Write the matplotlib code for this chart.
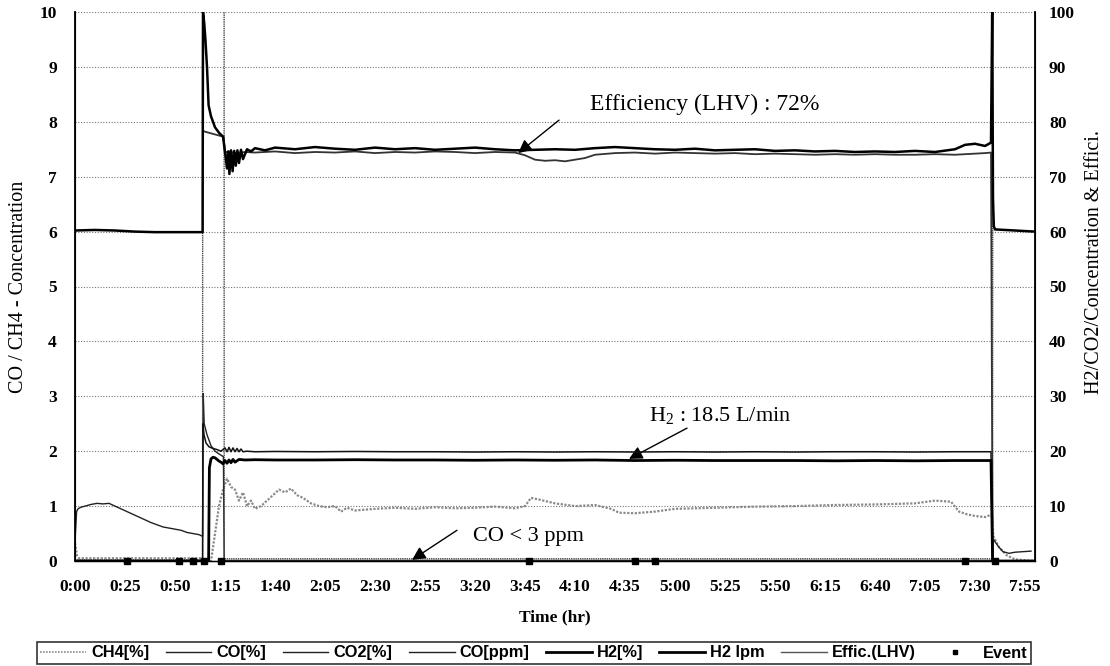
import matplotlib
matplotlib.use('Agg')
import matplotlib.pyplot as plt
from matplotlib.lines import Line2D

plt.rcParams['mathtext.fontset'] = 'custom'
plt.rcParams['mathtext.rm'] = 'Liberation Serif'
plt.rcParams['mathtext.it'] = 'Liberation Serif:italic'
plt.rcParams['mathtext.bf'] = 'Liberation Serif:bold'

# ---------------- data (time in minutes) ----------------
xtick_minutes = [0, 25, 50, 75, 100, 125, 150, 175, 200, 225, 250, 275, 300, 325, 350, 375, 400, 425, 450, 475]
xtick_labels = ["0:00", "0:25", "0:50", "1:15", "1:40", "2:05", "2:30", "2:55", "3:20", "3:45",
                "4:10", "4:35", "5:00", "5:25", "5:50", "6:15", "6:40", "7:05", "7:30", "7:55"]

# H2 [%]  (right axis)
h2_t = [0, 10, 20, 30, 40, 50, 60, 63.8, 64, 64.6, 65.2, 66, 66.8, 68, 70, 72, 74, 75, 76, 76.6, 77.2,
        78, 78.8, 79.6, 80.4, 81.2, 82, 83, 84, 86, 88, 90, 95, 100, 110, 120, 130, 140, 150, 160, 170,
        180, 190, 200, 210, 220, 230, 240, 250, 260, 270, 280, 290, 300, 310, 320, 330, 340, 350, 360,
        370, 380, 390, 400, 410, 420, 430, 440, 445, 450, 455, 458, 458.6, 459, 459.4, 460, 470, 480]
h2_v = [60.2, 60.3, 60.2, 60.0, 59.9, 59.9, 59.9, 59.9, 100, 98, 95, 90, 83, 81, 79, 78, 77.3, 74.5,
        71.5, 74.6, 70.5, 74.8, 71.0, 74.7, 72.0, 74.8, 72.5, 74.9, 73.2, 75.0, 74.6, 75.2, 74.8, 75.3,
        75.0, 75.4, 75.1, 74.9, 75.3, 75.0, 75.2, 74.9, 75.1, 75.3, 75.0, 74.8, 74.9, 75.0, 74.9, 75.2,
        75.4, 75.2, 75.0, 74.9, 75.1, 74.8, 74.9, 75.0, 74.7, 74.8, 74.6, 74.7, 74.5, 74.6, 74.5, 74.7,
        74.5, 75.0, 75.8, 76.0, 75.6, 76.2, 100, 66, 61, 60.4, 60.2, 60.0]

# Efficiency (LHV) [%]  (right axis)
eff_t = [64.3, 65, 67, 69, 71, 73, 74.3, 75, 77, 80, 85, 90, 100, 110, 120, 130, 140, 150, 160, 170, 180,
         190, 200, 210, 220, 225, 230, 235, 240, 245, 250, 255, 260, 270, 280, 290, 300, 310, 320, 330,
         340, 350, 360, 370, 380, 390, 400, 410, 420, 430, 440, 450, 455, 458, 458.8]
eff_v = [78.3, 78.2, 78.0, 77.8, 77.6, 77.4, 77.3, 74.4, 74.6, 74.3, 74.5, 74.4, 74.6, 74.3, 74.5, 74.4,
         74.6, 74.3, 74.5, 74.4, 74.6, 74.5, 74.3, 74.5, 74.4, 73.9, 73.1, 72.9, 73.0, 72.8, 73.1, 73.4,
         74.0, 74.3, 74.4, 74.2, 74.4, 74.3, 74.2, 74.3, 74.1, 74.2, 74.1, 74.0, 74.1, 74.0, 74.1, 74.0,
         74.0, 74.1, 74.0, 74.2, 74.3, 74.4, 0]

# CO2 [%]  (right axis)
co2_t = [0, 63.8, 64, 64.5, 65.5, 67, 69, 71, 73, 75, 76, 77, 78, 79, 80, 81, 82, 83, 84, 86, 90,
         100, 120, 140, 160, 180, 200, 220, 240, 260, 280, 300, 320, 340, 360, 380, 400, 420, 440,
         458, 458.8]
co2_v = [0, 0, 25, 23, 21.5, 20.8, 20.5, 20.3, 20.0, 20.6, 19.9, 20.7, 19.9, 20.6, 19.9, 20.5, 19.9,
         20.4, 19.9, 20.0, 19.9, 19.95, 19.9, 19.95, 19.9, 19.9, 19.85, 19.9, 19.85, 19.9, 19.85,
         19.9, 19.85, 19.9, 19.85, 19.9, 19.9, 19.85, 19.9, 19.9, 0]

# H2 flow [L/min]  (right axis)
h2lpm_t = [0, 66.8, 67.2, 68, 69, 70, 71, 72, 73, 74, 75, 76, 77, 78, 79, 80, 82, 85, 90, 100, 120,
           140, 160, 180, 200, 220, 240, 260, 280, 300, 320, 340, 360, 380, 400, 420, 440, 458,
           458.8, 480]
h2lpm_v = [0, 0, 17.0, 18.6, 18.9, 18.8, 18.5, 18.2, 18.0, 17.7, 18.3, 17.8, 18.4, 17.9, 18.5, 18.0,
           18.5, 18.4, 18.45, 18.4, 18.4, 18.45, 18.4, 18.4, 18.35, 18.4, 18.35, 18.4, 18.3, 18.35,
           18.3, 18.3, 18.3, 18.25, 18.3, 18.25, 18.3, 18.3, 0, 0]

# CO [%]  (left axis)
co_t = [0, 0.8, 1.5, 3, 5, 8, 11, 14, 17, 20, 23, 26, 29, 32, 35, 38, 41, 44, 47, 50, 53, 56, 59, 62,
        63.8, 64.1, 64.6, 65.3, 66, 67, 68, 70, 72, 74.2, 74.6, 150, 300, 458.8, 459.2, 460, 462, 464,
        467, 470, 474, 478]
co_v = [0.35, 0.9, 0.95, 0.98, 1.0, 1.03, 1.05, 1.04, 1.05, 1.0, 0.95, 0.9, 0.85, 0.8, 0.75, 0.7,
        0.66, 0.62, 0.6, 0.58, 0.56, 0.52, 0.5, 0.48, 0.45, 3.05, 2.5, 2.4, 2.3, 2.2, 2.1, 2.0, 1.95,
        1.9, 0.01, 0.01, 0.01, 0.01, 0.4, 0.35, 0.25, 0.17, 0.14, 0.16, 0.17, 0.18]

# CO [ppm]  (left axis, off-scale during transients)
coppm_t = [0, 63.8, 64, 74.4, 74.6, 200, 400, 458.8, 459.2, 480]
coppm_v = [0.02, 0.02, 50, 50, 0.04, 0.04, 0.04, 0.04, 50, 50]

# CH4 [%]  (left axis)
ch4_t = [0, 1, 2, 20, 40, 63, 66, 68, 70, 72, 74, 76, 78, 80, 82, 84, 86, 88, 90, 93, 96, 99, 102, 105,
         108, 111, 114, 118, 122, 126, 130, 133, 136, 140, 150, 160, 170, 180, 190, 200, 210, 220, 225,
         228, 232, 240, 250, 260, 268, 272, 280, 290, 300, 320, 340, 360, 380, 400, 420, 430, 438, 442,
         446, 450, 455, 458.5, 459.2, 462, 466, 470, 480]
ch4_v = [0.33, 0.1, 0.05, 0.05, 0.05, 0.05, 0.02, 0.0, 0.5, 1.0, 1.3, 1.5, 1.35, 1.3, 1.1, 1.25, 1.0,
         1.1, 0.95, 1.0, 1.1, 1.2, 1.3, 1.25, 1.32, 1.2, 1.15, 1.05, 1.0, 0.98, 1.0, 0.9, 0.97, 0.92,
         0.95, 0.97, 0.95, 0.98, 0.96, 0.97, 0.99, 0.96, 1.0, 1.15, 1.12, 1.05, 1.0, 1.02, 0.95, 0.88,
         0.87, 0.9, 0.95, 0.97, 0.99, 1.0, 1.02, 1.03, 1.05, 1.1, 1.08, 0.9, 0.85, 0.82, 0.8, 0.85,
         0.45, 0.25, 0.1, 0.03, 0.0]

# Events
event_t = [26, 52, 59, 64.5, 73, 227, 280, 290, 445, 460]
event_v = [0, 0, 0, 0, 0, 0, 0, 0, 0, 0]

# ---------------- figure ----------------
W, H = 1110, 666
fig = plt.figure(figsize=(W / 100, H / 100), dpi=100)
L, R, T, B = 75, 1035, 12, 561
ax = fig.add_axes([L / W, 1 - B / H, (R - L) / W, (B - T) / H])
ax2 = ax.twinx()

serif = 'Liberation Serif'
sans = 'Liberation Sans'

ax.set_xlim(0, 480)
ax.set_ylim(0, 10)
ax2.set_ylim(0, 100)

ax.set_yticks(range(0, 11))
ax2.set_yticks(range(0, 101, 10))
ax.set_xticks(xtick_minutes)
ax.set_xticklabels(xtick_labels)

for a in (ax, ax2):
    a.tick_params(length=0)
ax.tick_params(axis='x', pad=13)
ax.tick_params(axis='y', pad=13)
ax2.tick_params(axis='y', pad=10)
for lab in ax.get_xticklabels() + ax.get_yticklabels() + ax2.get_yticklabels():
    lab.set_fontfamily(serif)
    lab.set_fontweight('bold')
    lab.set_fontsize(12.5)

ax.yaxis.grid(True, linestyle=(0, (1, 1.5)), color='#777777', linewidth=0.8)
ax.set_axisbelow(True)
ax.spines['top'].set_visible(False)
ax2.spines['top'].set_visible(False)
ax.spines['left'].set_linewidth(1.3)
ax2.spines['right'].set_linewidth(1.3)
ax.spines['bottom'].set_linewidth(1.0)

# series
ax.plot(ch4_t, ch4_v, color='#8a8a8a', lw=1.6, ls=(0, (1, 0.7)), label='CH4[%]')
ax.plot(co_t, co_v, color='#222222', lw=1.0, label='CO[%]')
ax.plot(coppm_t, coppm_v, color='#444444', lw=1.0, ls=(0, (1, 0.6)), label='CO[ppm]')
ax2.plot(co2_t, co2_v, color='#111111', lw=1.1, label='CO2[%]')
ax2.plot(eff_t, eff_v, color='#333333', lw=1.3, label='Effic.(LHV)')
ax2.plot(h2_t, h2_v, color='#000000', lw=1.8, label='H2[%]')
ax2.plot(h2lpm_t, h2lpm_v, color='#000000', lw=2.0, label='H2 lpm')
ax2.plot(event_t, [v * 10 for v in event_v], ls='none', marker='s', ms=4.5, color='black', clip_on=False)

ax.set_ylabel('CO / CH4 - Concentration', fontfamily=serif, fontsize=14.5, labelpad=8)
ax2.set_ylabel('H2/CO2/Concentration & Effici.', fontfamily=serif, fontsize=14.5)
ax2.yaxis.set_label_coords(1.052, 0.545)
ax.set_xlabel('Time (hr)', fontfamily=serif, fontweight='bold', fontsize=12.5, labelpad=10)

# annotations
arrow = dict(arrowstyle='-|>', color='black', lw=1.0, mutation_scale=20, shrinkA=0, shrinkB=0)
ax.text(372, 8.22, 'Efficiency (LHV) : 72%', fontfamily=serif, fontsize=17, ha='right', va='baseline')
ax.annotate('', xy=(221.6, 7.43), xytext=(242, 8.03), arrowprops=arrow)
ax.text(287, 2.55, 'H$_2$ : 18.5 L/min', fontfamily=serif, fontsize=16, ha='left', va='baseline')
ax.annotate('', xy=(277, 1.86), xytext=(306, 2.42), arrowprops=arrow)
ax.text(199, 0.44, 'CO < 3 ppm', fontfamily=serif, fontsize=16, ha='left', va='center')
ax.annotate('', xy=(168.5, 0.02), xytext=(191, 0.56), arrowprops=arrow)

# legend
handles = [
    Line2D([], [], color='#8a8a8a', lw=1.2, ls=(0, (1, 0.8))),
    Line2D([], [], color='#222222', lw=1.0),
    Line2D([], [], color='#222222', lw=1.0),
    Line2D([], [], color='#222222', lw=1.0),
    Line2D([], [], color='black', lw=2.0),
    Line2D([], [], color='black', lw=2.0),
    Line2D([], [], color='#555555', lw=1.0),
    Line2D([], [], color='black', ls='none', marker='s', ms=3),
]
labels = ['CH4[%]', 'CO[%]', 'CO2[%]', 'CO[ppm]', 'H2[%]', 'H2 lpm', 'Effic.(LHV)', 'Event']
leg = fig.legend(handles, labels, ncol=8, loc='center', bbox_to_anchor=(534 / W, 1 - 653 / H),
                 frameon=True, fancybox=False, edgecolor='black', borderpad=0.2,
                 handlelength=2.8, handletextpad=0.3, columnspacing=1.0,
                 prop={'family': sans, 'weight': 'bold', 'size': 11.8})
leg.get_frame().set_linewidth(1.2)

fig.savefig('out.png', dpi=100)
